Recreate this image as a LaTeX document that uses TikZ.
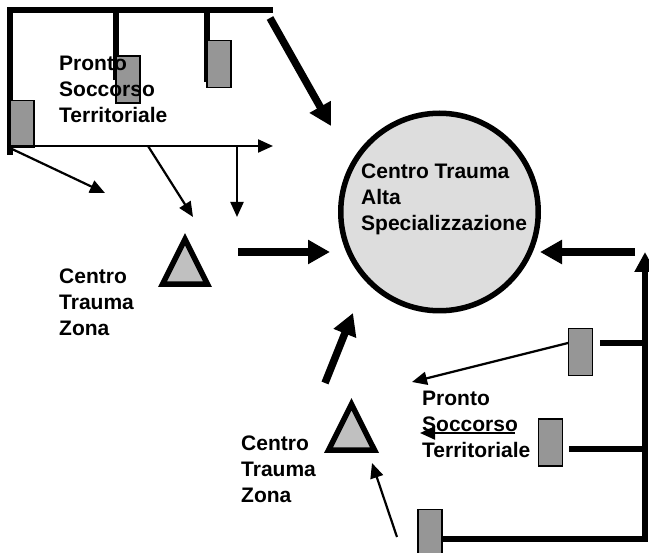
\documentclass[tikz,border=0pt]{standalone}
\usepackage{fontspec}
\setmainfont{Liberation Sans}
\usetikzlibrary{arrows.meta}
\definecolor{boxgray}{HTML}{969696}
\definecolor{trigray}{HTML}{C0C0C0}
\definecolor{circgray}{HTML}{DDDDDD}
\tikzset{
  heavyline/.style={line width=6pt},
  heavyarrow/.style={line width=7.5pt,-{Triangle[length=22pt,width=23pt]}},
  thinarrow/.style={line width=2.2pt,-{Triangle[length=15pt,width=13pt]}},
  psbox/.style={draw,line width=1.2pt,fill=boxgray,minimum width=24pt,minimum height=47pt,inner sep=0pt},
  trishape/.style={draw,line width=5.5pt,fill=trigray,line join=miter},
  lbl/.style={font=\fontsize{21pt}{26pt}\selectfont\bfseries,align=left,anchor=north west,inner sep=0pt}
}
\begin{document}
\begin{tikzpicture}[x=1pt,y=-1pt]
\useasboundingbox (0,0) rectangle (649,553);
\clip (0,0) rectangle (649,553);
% ---------- coordinates ----------
\coordinate (tlA) at (273,10);
\coordinate (tlC) at (10,10);
\coordinate (tlB) at (10,155);
\coordinate (v1t) at (116,10);
\coordinate (v1b) at (116,80);
\coordinate (v2t) at (207,10);
\coordinate (v2b) at (207,82);
\coordinate (hs) at (10,146);
\coordinate (he) at (273,146);
\coordinate (d1s) at (12,149);
\coordinate (d1e) at (105,193);
\coordinate (d2s) at (148,146);
\coordinate (d2e) at (193,217);
\coordinate (d3s) at (237,146);
\coordinate (d3e) at (237,217);
\coordinate (ta1s) at (270,18);
\coordinate (ta1e) at (331,126);
\coordinate (ta2s) at (238,252);
\coordinate (ta2e) at (330,252);
\coordinate (ta3s) at (325,383);
\coordinate (ta3e) at (353,313);
\coordinate (ta4s) at (635,252);
\coordinate (ta4e) at (540,252);
\coordinate (rvb) at (645,539);
\coordinate (rvt) at (645,252);
\coordinate (rb6) at (443,539);
\coordinate (r4s) at (600,343);
\coordinate (r4e) at (645,343);
\coordinate (r5s) at (569,449);
\coordinate (r5e) at (645,449);
\coordinate (a4s) at (568,343);
\coordinate (a4e) at (412,382);
\coordinate (a5s) at (515,433);
\coordinate (a5e) at (420,433);
\coordinate (a6s) at (397,537);
\coordinate (a6e) at (372,463);
% ---------- top-left structure ----------
\draw[heavyline,line join=miter] (tlA) -- (tlC) -- (tlB);
\draw[heavyline] (v1t) -- (v1b);
\draw[heavyline] (v2t) -- (v2b);
\node[psbox] (b1) at (22,124) {};
\node[psbox] (b2) at (128,79.5) {};
\node[psbox] (b3) at (219,64) {};
\draw[thinarrow] (hs) -- (he);
\draw[thinarrow] (d1s) -- (d1e);
\draw[thinarrow] (d2s) -- (d2e);
\draw[thinarrow] (d3s) -- (d3e);
\draw[heavyarrow] (ta1s) -- (ta1e);
% ---------- central circle ----------
\node[circle,draw,line width=5.5pt,fill=circgray,minimum size=197.5pt,inner sep=0pt] (cta) at (439.5,212) {};
% ---------- triangles ----------
\draw[trishape] (185,239.2) -- (162.5,284.25) -- (207.5,284.25) -- cycle;
\draw[trishape] (351.5,404.2) -- (328.45,450.25) -- (374.55,450.25) -- cycle;
\draw[heavyarrow] (ta2s) -- (ta2e);
\draw[heavyarrow] (ta3s) -- (ta3e);
\draw[heavyarrow] (ta4s) -- (ta4e);
% ---------- right structure ----------
\draw[heavyline,line join=miter,-{Triangle[length=20pt,width=20pt]}] (rb6) -- (rvb) -- (rvt);
\draw[heavyline] (r4s) -- (r4e);
\draw[heavyline] (r5s) -- (r5e);
\node[psbox] (b4) at (580.5,352) {};
\node[psbox] (b5) at (550.5,442.5) {};
\node[psbox] (b6) at (430,533) {};
\draw[thinarrow] (a4s) -- (a4e);
\draw[thinarrow] (a5s) -- (a5e);
\draw[thinarrow] (a6s) -- (a6e);
% ---------- labels ----------
\node[lbl] (ps1) at (59,56) {Pronto\\Soccorso\\Territoriale};
\node[lbl] (ctat) at (361,164) {Centro Trauma\\Alta\\Specializzazione};
\node[lbl] (ctz1) at (59,269) {Centro\\Trauma\\Zona};
\node[lbl] (ctz2) at (241,436) {Centro\\Trauma\\Zona};
\node[lbl] (ps2) at (422,391) {Pronto\\Soccorso\\Territoriale};
\end{tikzpicture}
\end{document}
